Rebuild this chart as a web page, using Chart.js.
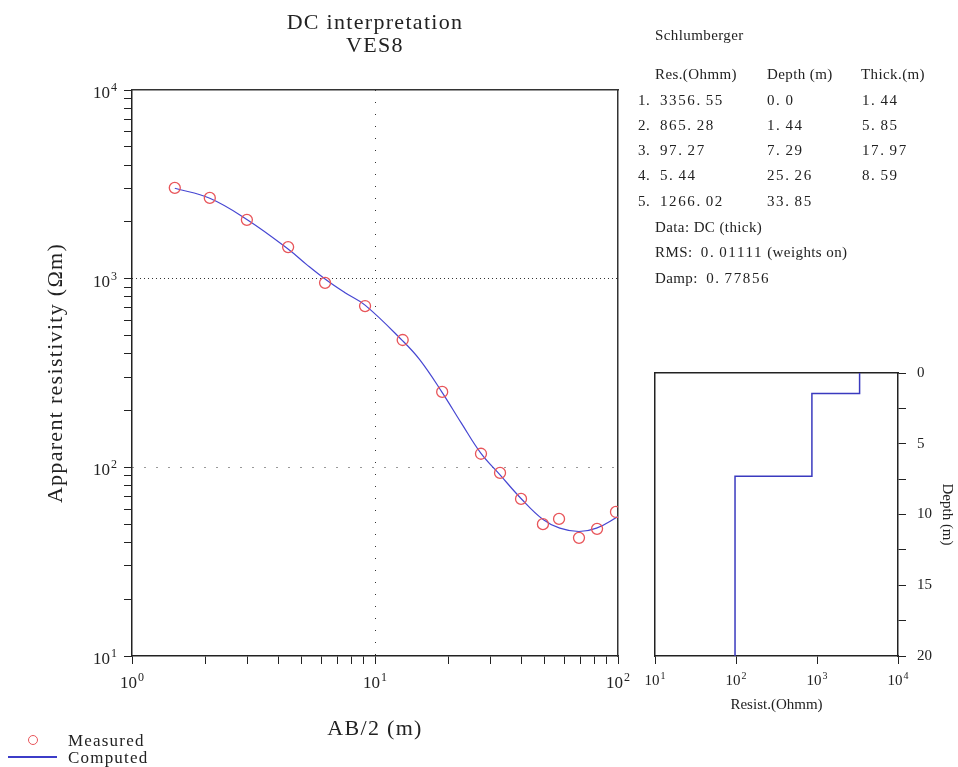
<!DOCTYPE html>
<html>
<head>
<meta charset="utf-8">
<script src="https://cdn.jsdelivr.net/npm/chart.js@4"></script>
<style>
  html, body { margin: 0; padding: 0; background: #fff; }
  #wrap { position: relative; width: 958px; height: 767px; overflow: hidden;
          font-family: "Liberation Serif", "DejaVu Serif", serif; color: #222; }
  canvas { position: absolute; left: 0; top: 0; }
  .t { position: absolute; white-space: nowrap; line-height: 1; transform: translateY(-50%); }
  .info { font-size: 15px; letter-spacing: 0.4px; }
  .num { letter-spacing: 1.6px; }
  .idx { letter-spacing: 0.5px; }
  .dot { margin-right: 4px; }
  .ttl { font-size: 22px; left: 0; width: 750px; text-align: center; letter-spacing: 1.3px; }
  .leg { font-size: 17px; letter-spacing: 1.2px; left: 68px; }
</style>
</head>
<body>
<div id="wrap">
  <canvas id="mainChart" width="958" height="767"></canvas>
  <canvas id="modelChart" width="958" height="767"></canvas>
  <div class="t ttl" style="top:22px">DC interpretation</div>
  <div class="t ttl" style="top:45px">VES8</div>
  <div id="info"></div>
  <div style="position:absolute; left:28px; top:735px; width:8px; height:8px; border:1.4px solid #e8555a; border-radius:50%;"></div>
  <div class="t leg" style="top:740px">Measured</div>
  <div style="position:absolute; left:8px; top:756px; width:49px; height:1.5px; background:#3c3cc8;"></div>
  <div class="t leg" style="top:757px">Computed</div>
</div>
<script>
// field data (AB/2 in m, apparent resistivity in ohm-m)
const abHalf = [1.5, 2.09, 2.97, 4.39, 6.23, 9.1, 13.0, 18.9, 27.3, 32.7, 39.9, 49.1, 57.2, 69.1, 82.0, 98.1];
const rhoMeasured = [3030, 2680, 2050, 1470, 950, 716, 473, 251, 118, 93.4, 68, 50, 53.3, 42.3, 47.2, 58];

// model response
const abCalc = [1.5, 2.09, 2.99, 4.4, 5.25, 6.33, 7.53, 9.1, 13.0, 15.3, 18.8, 22.7, 27.3, 32.7, 39.8, 49.0, 57.6, 69.1, 81.6, 100];
const rhoComputed = [3013, 2667, 2047, 1432, 1183, 980, 842, 724, 468, 371, 252, 171, 118.5, 91.2, 68.6, 53.1, 47.6, 45.7, 47.6, 54.8];

// layered model
const layerRes = [3356.55, 865.28, 97.27, 5.44, 1266.02];
const layerDepth = [0.0, 1.44, 7.29, 25.26, 33.85];
const layerThick = [1.44, 5.85, 17.97, 8.59];
const rmsValue = '0.01111';
const dampValue = '0.77856';

// axis decades / labels
const abDecades = [1, 10, 100];
const rhoDecades = [10, 100, 1000, 10000];
const resDecades = [10, 100, 1000, 10000];
const depthLabels = [0, 5, 10, 15, 20];

const FONT = '"Liberation Serif", "DejaVu Serif", serif';
const INK = '#222';
Chart.defaults.font.family = FONT;
Chart.defaults.color = INK;

function logTicks(decades) {
    const out = [];
    decades.forEach((d, i) => {
        if (i === decades.length - 1) { out.push(d); return; }
        for (let k = 1; k < 10; k++) out.push(d * k);
    });
    return out.map(v => ({ value: v }));
}

function fmt(v) {
    return v === 0 ? '0.0' : v.toFixed(2);
}

// number text with the wide gap after the decimal point
function numHtml(s) {
    const i = s.indexOf('.');
    if (i < 0) return s;
    return s.slice(0, i) + '<span class="dot">.</span>' + s.slice(i + 1);
}

// info block next to the main chart
(function buildInfo() {
    const box = document.getElementById('info');
    const put = (html, x, y, cls) => {
        const d = document.createElement('div');
        d.className = 't info ' + (cls || '');
        d.style.left = x + 'px';
        d.style.top = y + 'px';
        d.innerHTML = html;
        box.appendChild(d);
    };
    put('Schlumberger', 655, 35);
    put('Res.(Ohmm)', 655, 74);
    put('Depth (m)', 767, 74);
    put('Thick.(m)', 861, 74);
    const rowY = [100, 125, 150, 175, 201];
    layerRes.forEach((r, i) => {
        put((i + 1) + '.', 638, rowY[i], 'idx');
        put(numHtml(fmt(r)), 660, rowY[i], 'num');
        put(numHtml(fmt(layerDepth[i])), 767, rowY[i], 'num');
        if (i < layerThick.length) put(numHtml(fmt(layerThick[i])), 862, rowY[i], 'num');
    });
    put('Data: DC (thick)', 655, 227);
    put('RMS:&nbsp; <span class="num">' + numHtml(rmsValue) + '</span> (weights on)', 655, 252);
    put('Damp:&nbsp; <span class="num">' + numHtml(dampValue) + '</span>', 655, 278);
})();

// draws 10^n style labels at the decade ticks
const powLabels = {
    id: 'powLabels',
    afterDraw(chart, args, opts) {
        const ctx = chart.ctx;
        (opts.axes || []).forEach(a => {
            const scale = chart.scales[a.id];
            a.values.forEach(v => {
                const exp = String(Math.round(Math.log10(v)));
                const p = scale.getPixelForValue(v);
                const sup = Math.round(a.size * 0.68);
                ctx.save();
                ctx.letterSpacing = '0px';
                ctx.fillStyle = INK;
                ctx.textAlign = 'left';
                ctx.textBaseline = 'alphabetic';
                ctx.font = a.size + 'px ' + FONT;
                const w1 = ctx.measureText('10').width;
                ctx.font = sup + 'px ' + FONT;
                const w2 = ctx.measureText(exp).width;
                const w = w1 + 1 + w2;
                let x0, base;
                if (scale.isHorizontal()) {
                    x0 = p - w / 2;
                    base = scale.top + a.offset;
                } else {
                    x0 = scale.right - a.offset - w;
                    base = p + a.base;
                }
                ctx.font = a.size + 'px ' + FONT;
                ctx.fillText('10', x0, base);
                ctx.font = sup + 'px ' + FONT;
                ctx.fillText(exp, x0 + w1 + 1, base - a.size * 0.42);
                ctx.restore();
            });
        });
    }
};

// wider tracking for the axis titles of the main chart
const tracking = {
    id: 'tracking',
    beforeDraw(chart, args, opts) {
        chart.ctx.letterSpacing = opts.spacing || '0px';
    }
};

const only = (vals, style) => c => (c.tick && vals.includes(c.tick.value)) ? style : 'rgba(0,0,0,0)';

// main sounding curve
new Chart(document.getElementById('mainChart'), {
    type: 'line',
    data: {
        datasets: [{
            label: 'Measured',
            data: abHalf.map((x, i) => ({ x: x, y: rhoMeasured[i] })),
            showLine: false,
            pointStyle: 'circle',
            pointRadius: 5.5,
            pointBorderWidth: 1.3,
            pointBorderColor: '#e8555a',
            pointBackgroundColor: 'rgba(0,0,0,0)',
            xAxisID: 'x',
            yAxisID: 'y'
        }, {
            label: 'Computed',
            data: abCalc.map((x, i) => ({ x: x, y: rhoComputed[i] })),
            borderColor: '#4646d2',
            borderWidth: 1.2,
            pointRadius: 0,
            tension: 0.4,
            fill: false,
            xAxisID: 'x',
            yAxisID: 'y'
        }]
    },
    options: {
        responsive: false,
        animation: false,
        layout: { padding: { left: 0, top: 90, right: 340, bottom: 11 } },
        plugins: {
            legend: { display: false },
            tooltip: { enabled: false },
            tracking: { spacing: '1.3px' },
            powLabels: {
                axes: [
                    { id: 'x', values: abDecades, size: 17, offset: 32 },
                    { id: 'y', values: rhoDecades, size: 17, offset: 15, base: 8 }
                ]
            }
        },
        scales: {
            x: {
                type: 'logarithmic', position: 'bottom', min: 1, max: 100,
                afterBuildTicks: s => { s.ticks = logTicks(abDecades); },
                afterFit: s => { s.height = 100; },
                ticks: { display: false },
                grid: { color: only([10], '#333'), tickColor: INK, tickLength: 8, lineWidth: 1 },
                border: { color: INK, width: 1.5, dash: [1, 11] },
                title: { display: true, text: 'AB/2 (m)', font: { size: 22, family: FONT }, color: INK, padding: { top: 0, bottom: 14 } }
            },
            y: {
                type: 'logarithmic', position: 'left', min: 10, max: 10000,
                afterBuildTicks: s => { s.ticks = logTicks(rhoDecades); },
                afterFit: s => { s.width = 132; },
                ticks: { display: false },
                grid: { color: only([100], '#333'), tickColor: INK, tickLength: 8, lineWidth: 1 },
                border: { color: INK, width: 1.5, dash: [1, 11] },
                title: { display: true, text: 'Apparent resistivity (Ωm)', font: { size: 22, family: FONT }, color: INK, padding: { top: 43, bottom: 0 } }
            },
            y2: {
                type: 'logarithmic', position: 'right', min: 10, max: 10000, display: true,
                afterBuildTicks: s => { s.ticks = rhoDecades.map(v => ({ value: v })); },
                afterFit: s => { s.width = 0; },
                ticks: { display: false },
                grid: { color: only([1000], '#333'), drawTicks: false, lineWidth: 1 },
                border: { color: '#333', width: 1.5, dash: [1, 3] }
            },
            x2: {
                type: 'logarithmic', position: 'top', min: 1, max: 100, display: true,
                afterFit: s => { s.height = 0; },
                ticks: { display: false },
                grid: { display: false },
                border: { color: '#333', width: 1.5 }
            }
        }
    },
    plugins: [tracking, powLabels]
});

// layered model as a step profile
const modelPts = [];
layerRes.forEach((r, i) => {
    const top = layerDepth[i];
    const bot = i + 1 < layerDepth.length ? layerDepth[i + 1] : 40;
    modelPts.push({ x: r, y: top });
    modelPts.push({ x: r, y: bot });
});

new Chart(document.getElementById('modelChart'), {
    type: 'line',
    data: {
        datasets: [{
            label: 'Model',
            data: modelPts,
            borderColor: '#3a3abf',
            borderWidth: 1.5,
            pointRadius: 0,
            tension: 0,
            fill: false
        }]
    },
    options: {
        responsive: false,
        animation: false,
        layout: { padding: { left: 655, top: 373, right: 0, bottom: 51 } },
        plugins: {
            legend: { display: false },
            tooltip: { enabled: false },
            powLabels: { axes: [{ id: 'x', values: resDecades, size: 15, offset: 29 }] }
        },
        scales: {
            x: {
                type: 'logarithmic', position: 'bottom', min: 10, max: 10000,
                afterBuildTicks: s => { s.ticks = resDecades.map(v => ({ value: v })); },
                afterFit: s => { s.height = 60; },
                ticks: { display: false },
                grid: { drawOnChartArea: false, tickColor: INK, tickLength: 8 },
                border: { color: INK, width: 1.5 },
                title: { display: true, text: 'Resist.(Ohmm)', font: { size: 15, family: FONT }, color: INK, padding: { top: 0, bottom: 2 } }
            },
            y: {
                type: 'linear', position: 'right', reverse: true, min: 0, max: 20,
                afterFit: s => { s.width = 60; },
                ticks: {
                    stepSize: 2.5, autoSkip: false, maxRotation: 0, padding: 11,
                    font: { size: 15, family: FONT }, color: INK,
                    callback: v => depthLabels.includes(v) ? String(v) : ''
                },
                grid: { drawOnChartArea: false, tickColor: INK, tickLength: 8 },
                border: { color: INK, width: 1.5 },
                title: { display: true, text: 'Depth (m)', font: { size: 15, family: FONT }, color: INK, padding: { top: 2, bottom: 0 } }
            },
            y2: {
                type: 'linear', position: 'left', min: 0, max: 20, display: true,
                afterFit: s => { s.width = 0; },
                ticks: { display: false },
                grid: { display: false },
                border: { color: INK, width: 1.5 }
            },
            x2: {
                type: 'logarithmic', position: 'top', min: 10, max: 10000, display: true,
                afterFit: s => { s.height = 0; },
                ticks: { display: false },
                grid: { display: false },
                border: { color: INK, width: 1.5 }
            }
        }
    },
    plugins: [powLabels]
});
</script>
</body>
</html>
